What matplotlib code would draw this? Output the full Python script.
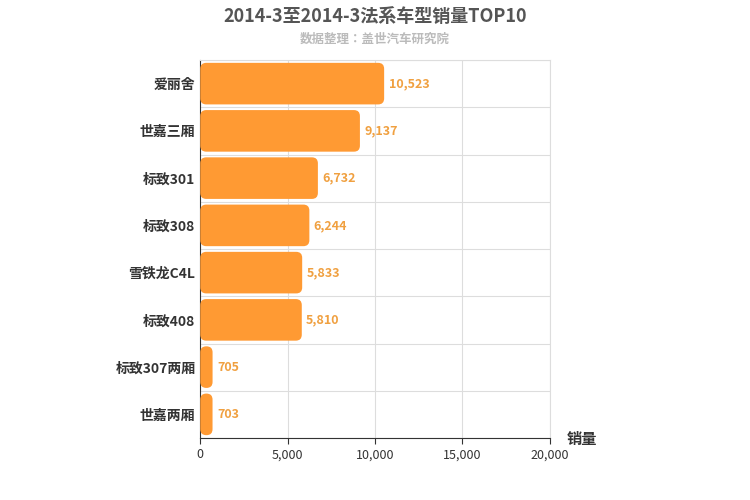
import matplotlib
matplotlib.use("Agg")
import matplotlib.pyplot as plt
from matplotlib.patches import FancyBboxPatch
import numpy as np

plt.rcParams["font.family"] = ["Noto Sans CJK JP", "WenQuanYi Zen Hei"]

models = ["爱丽舍", "世嘉三厢", "标致301", "标致308", "雪铁龙C4L", "标致408", "标致307两厢", "世嘉两厢"]
sales = [10523, 9137, 6732, 6244, 5833, 5810, 705, 703]
xticks = [0, 5000, 10000, 15000, 20000]

BAR = "#ff9a33"
fig = plt.figure(figsize=(7.5, 5), dpi=100)
ax = fig.add_axes([0.267, 0.124, 0.466, 0.756])
y = np.arange(len(models))
h = 0.88
ax.set_ylim(len(models) - 0.5, -0.5)
ax.set_xlim(0, 20000)
px_x = 20000 / (0.466 * 750)
px_y = len(models) / (0.756 * 500)
for yi, v in zip(y, sales):
    p = FancyBboxPatch((0, yi - h / 2), v, h,
                       boxstyle=f"round,pad=0,rounding_size={6 * px_x}",
                       mutation_aspect=px_y / px_x,
                       fc=BAR, ec="none", zorder=3)
    ax.add_patch(p)
    ax.text(v + 250, yi, f"{v:,}", va="center", ha="left", color="#f0a040",
            fontsize=9, fontweight="bold")
ax.set_xticks(xticks)
ax.set_xticklabels([f"{t:,}" for t in xticks], fontsize=9, color="#333")
ax.set_yticks(y)
ax.set_yticklabels(models, fontsize=10, fontweight="bold", color="#333")
ax.set_yticks(np.arange(len(models) + 1) - 0.5, minor=True)
ax.grid(True, which="minor", axis="y", color="#ddd", lw=0.8)
ax.grid(True, which="major", axis="x", color="#ddd", lw=0.8)
ax.tick_params(axis="y", which="both", length=0)
ax.tick_params(axis="x", length=4, color="#333")
for s in ["top", "right"]:
    ax.spines[s].set_color("#ddd")
ax.spines["left"].set_color("#333")
ax.spines["bottom"].set_color("#333")
ax.set_axisbelow(True)
fig.text(0.755, 0.112, "销量", fontsize=11, fontweight="bold", color="#333")
fig.text(0.5, 0.968, "2014-3至2014-3法系车型销量TOP10", ha="center", va="center",
         fontsize=13, fontweight="bold", color="#555")
fig.text(0.5, 0.922, "数据整理：盖世汽车研究院", ha="center", va="center",
         fontsize=9, fontweight="bold", color="#bbb")
fig.savefig("out.png")
